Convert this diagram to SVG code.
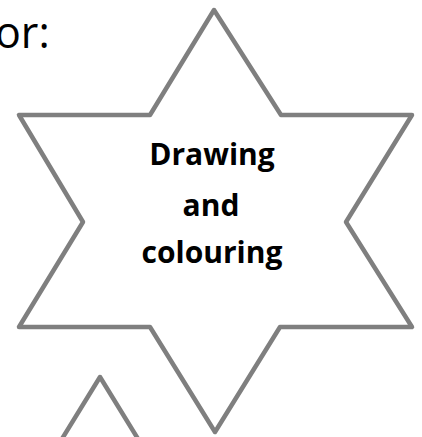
<svg xmlns="http://www.w3.org/2000/svg" width="422" height="437" viewBox="0 0 422 437">
<style>
.shape{fill:#ffffff;stroke:#7f7f7f;stroke-width:4.5;stroke-linejoin:round;stroke-linecap:round}
.open{fill:none;stroke:#7f7f7f;stroke-width:4.5;stroke-linejoin:round}
.lbl{font-family:"Open Sans","Liberation Sans",sans-serif;font-weight:bold;font-size:30px;fill:#000;text-anchor:middle}
.hdr{font-family:"Open Sans","Liberation Sans",sans-serif;font-size:43px;fill:#000}
</style>
<rect width="422" height="437" fill="#ffffff"/>
<text class="hdr" x="-5" y="48">or:</text>
<g id="star">
<polygon class="shape" points="214,10 281,115 412,115 346,222 412,327 280,327 215,432 150,327 19,327 83,222 19,115 150,115"/>
<text class="lbl" x="212" y="165">Drawing</text>
<text class="lbl" x="211" y="216">and</text>
<text class="lbl" x="212" y="263">colouring</text>
</g>
<g id="triangle">
<polyline class="open" points="57,447 100,377 143,447"/>
</g>
</svg>
